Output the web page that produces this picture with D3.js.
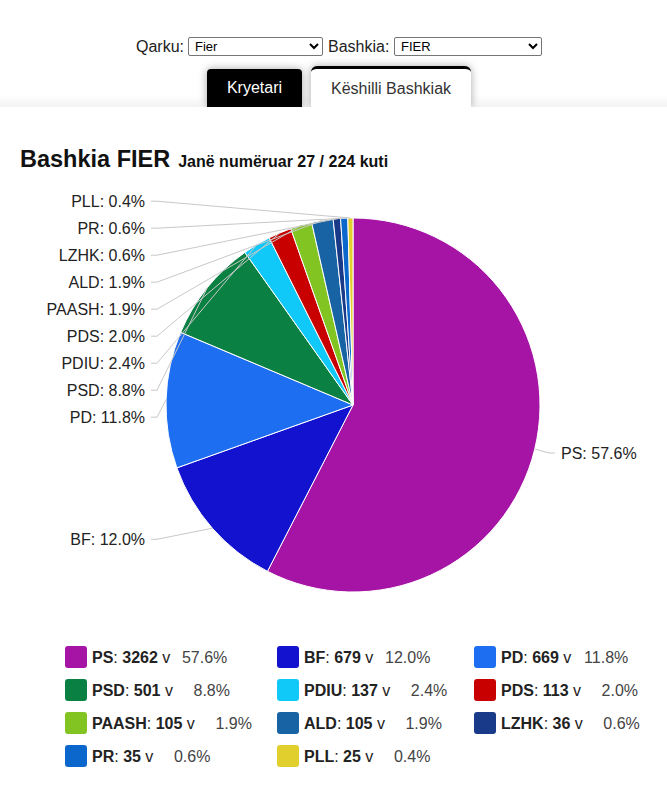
<!DOCTYPE html>
<html>
<head>
<meta charset="utf-8">
<script src="https://cdn.jsdelivr.net/npm/d3@7"></script>
<style>
  html, body { margin:0; padding:0; background:#fff; width:667px; height:789px; overflow:hidden;
    font-family:"Liberation Sans", Arial, Helvetica, sans-serif; color:#222; }
  .lbl { position:absolute; font-size:16px; color:#222; top:37px; line-height:19px; }
  select { position:absolute; top:37px; height:19px; font-size:13px; font-family:"Liberation Sans", Arial, sans-serif;
    border:1px solid #767676; border-radius:2px; background:#fff; color:#000; padding:0 2px; }
  .bar { position:absolute; left:0; top:95px; width:667px; height:12px;
    background:linear-gradient(#fff, #f3f3f3); z-index:1; }
  .tab { position:absolute; font-size:16px; text-align:center; box-sizing:border-box; z-index:2;
    box-shadow:0 0 9px rgba(0,0,0,0.35); }
  .panel { position:absolute; left:0; top:107px; width:667px; height:682px; background:#fff; z-index:3; }
  svg { position:absolute; left:0; top:0; z-index:4; }
</style>
</head>
<body>
<div class="lbl" id="lq" style="left:136px">Qarku:</div>
<select id="sq" style="left:188px; width:135px"></select>
<div class="lbl" id="lb" style="left:328px">Bashkia:</div>
<select id="sb" style="left:394px; width:148px"></select>
<div class="bar"></div>
<div class="tab" id="t1" style="left:207px; top:69px; width:95px; height:38px; background:#000; color:#fff; line-height:38px; border-radius:4px 4px 0 0;"></div>
<div class="tab" id="t2" style="left:311px; top:66px; width:160px; height:41px; background:#fff; color:#333; line-height:40px; border-top:3px solid #000; border-radius:6px 6px 0 0;"></div>
<div class="panel"></div>
<svg id="chart" width="667" height="789"></svg>
<script>
// ---- data ----
const counties = ["Fier"];
const municipalities = ["FIER"];
const tabs = ["Kryetari", "Këshilli Bashkiak"];
const municipality = "FIER";
const boxesCounted = 27;
const boxesTotal = 224;
const parties = ["PS","BF","PD","PSD","PDIU","PDS","PAASH","ALD","LZHK","PR","PLL"];
const votes = [3262,679,669,501,137,113,105,105,36,35,25];
const palette = ["#a514a5","#1212cf","#1e6ef2","#0b8043","#10c9f8","#c80000","#82c421","#1763a3","#183a89","#0b67cc","#e1cf2d"];

// ---- controls ----
d3.select("#sq").selectAll("option").data(counties).join("option").text(d=>d);
d3.select("#sb").selectAll("option").data(municipalities).join("option").text(d=>d);
d3.select("#t1").text(tabs[0]);
d3.select("#t2").text(tabs[1]);

const svg = d3.select("#chart");
const font = '"Liberation Sans", Arial, Helvetica, sans-serif';

// ---- title ----
const title = svg.append("text").attr("x", 20).attr("y", 167)
  .attr("font-family", font).attr("font-weight", "bold").attr("fill", "#111");
title.append("tspan").attr("font-size", "23.5px").text("Bashkia " + municipality);
title.append("tspan").attr("font-size", "16px").attr("dx", 8)
  .text(`Janë numëruar ${boxesCounted} / ${boxesTotal} kuti`);

// ---- pie ----
const total = d3.sum(votes);
const data = parties.map((p,i)=>({party:p, v:votes[i], pct: votes[i]/total*100}));
const color = d3.scaleOrdinal().domain(parties).range(palette);
const cx = 353, cy = 405, r = 187;
const pie = d3.pie().sort(null).value(d=>d.v);
const arcs = pie(data);
const arc = d3.arc().innerRadius(0).outerRadius(r);
const g = svg.append("g").attr("transform", `translate(${cx},${cy})`);
g.selectAll("path.slice").data(arcs).join("path").attr("class","slice")
  .attr("d", arc).attr("fill", d=>color(d.data.party))
  .attr("stroke", "#fff").attr("stroke-width", 1);

// ---- outside labels with simple collision layout ----
const rl = r * 1.09, spacing = 27;
const labels = arcs.map(a => {
  const m = (a.startAngle + a.endAngle) / 2;
  return { a, m, side: Math.sin(m) >= 0 ? 1 : -1,
    ex: Math.sin(m) * r, ey: -Math.cos(m) * r,
    want: -Math.cos(m) * rl };
});
[1,-1].forEach(side => {
  const L = labels.filter(l=>l.side===side).sort((p,q)=>p.want-q.want);
  let prev = -Infinity;
  L.forEach(l => { l.y = Math.max(l.want, prev + spacing); prev = l.y; });
});
const tx = r + 21;
g.selectAll("polyline.lead").data(labels).join("polyline").attr("class","lead")
  .attr("fill","none").attr("stroke","#c8c8c8").attr("stroke-width",1)
  .attr("points", l => {
    const x0 = l.side * (tx - 6), x1 = l.side * (tx - 12);
    return `${x0},${l.y} ${x1},${l.y} ${l.ex},${l.ey}`;
  });
g.selectAll("text.plabel").data(labels).join("text").attr("class","plabel")
  .attr("x", l => l.side * tx).attr("y", l => l.y).attr("dy","0.36em")
  .attr("text-anchor", l => l.side > 0 ? "start" : "end")
  .attr("font-family", font).attr("font-size","16px").attr("fill","#222")
  .text(l => `${l.a.data.party}: ${l.a.data.pct.toFixed(1)}%`);

// ---- legend ----
const colX = [65, 277, 474];
const rowTop = 646, rowStep = 33, sw = 22;
const items = svg.append("g").selectAll("g.item").data(data).join("g").attr("class","item")
  .attr("transform", (d,i)=>`translate(${colX[i%3]},${rowTop + Math.floor(i/3)*rowStep})`);
items.append("rect").attr("width", sw).attr("height", sw).attr("rx", 3)
  .attr("fill", d=>color(d.party));
items.each(function(d){
  const it = d3.select(this);
  const t = it.append("text").attr("x", 27).attr("y", sw/2).attr("dy","0.36em")
    .attr("font-family", font).attr("font-size","16px").attr("fill","#222");
  t.append("tspan").attr("font-weight","bold").text(d.party);
  t.append("tspan").text(": ");
  t.append("tspan").attr("font-weight","bold").text(d.v);
  t.append("tspan").text(" v");
  const w = t.node().getComputedTextLength();
  it.append("text").attr("x", 27 + w + 57).attr("y", sw/2).attr("dy","0.36em")
    .attr("text-anchor","end").attr("font-family", font).attr("font-size","16px").attr("fill","#444")
    .text(d.pct.toFixed(1) + "%");
});
</script>
</body>
</html>
